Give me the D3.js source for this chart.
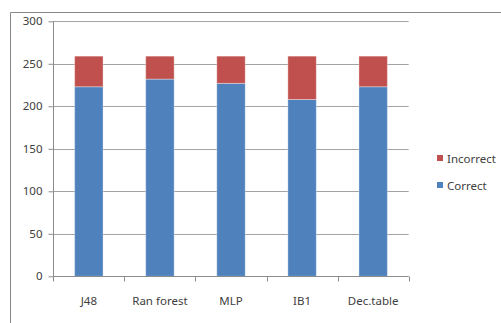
<!DOCTYPE html>
<html><head><meta charset="utf-8">
<script src="https://cdn.jsdelivr.net/npm/d3@7"></script>
<style>
html,body{margin:0;padding:0;background:#fff;}
svg{display:block;}
text{font-family:"Noto Sans",sans-serif;font-size:11.5px;fill:#404040;}
</style></head>
<body>
<svg id="chart" width="501" height="323"></svg>
<script>
const categories = ["J48", "Ran forest", "MLP", "IB1", "Dec.table"];
const correct = [223, 232, 227, 208, 223];
const incorrect = [36, 27, 32, 51, 36];
const yTicks = [0, 50, 100, 150, 200, 250, 300];
const seriesNames = ["Correct", "Incorrect"];
const colors = ["#4F81BD", "#C0504D"];

const svg = d3.select("#chart");
// outer frame (clipped on right/bottom)
svg.append("path").attr("d", "M10.5,330V12.5H510")
  .attr("fill", "none").attr("stroke", "#888").attr("stroke-width", 1);

const x = d3.scaleBand().domain(categories).range([53.3, 408.7]).paddingInner(0.6).paddingOuter(0.3);
const y = d3.scaleLinear().domain([0, 300]).range([276.3, 21.3]);

// gridlines
svg.append("g").selectAll("line").data(yTicks.filter(d => d > 0)).join("line")
  .attr("x1", 53.3).attr("x2", 408.7)
  .attr("y1", d => Math.round(y(d)) + 0.5).attr("y2", d => Math.round(y(d)) + 0.5)
  .attr("stroke", "#a3a3a3").attr("stroke-width", 1);

const table = categories.map((c, i) => ({cat: c, Correct: correct[i], Incorrect: incorrect[i]}));
const stack = d3.stack().keys(seriesNames)(table);
svg.append("g").selectAll("g").data(stack).join("g")
  .attr("fill", (d, i) => colors[i])
  .selectAll("rect").data(d => d).join("rect")
  .attr("x", d => x(d.data.cat))
  .attr("width", x.bandwidth())
  .attr("y", d => y(d[1]))
  .attr("height", d => y(d[0]) - y(d[1]))
  .attr("stroke", "rgba(255,255,255,0.35)").attr("stroke-width", 1);

// y axis
const yAxis = svg.append("g").attr("transform", "translate(53.5,0)")
  .call(d3.axisLeft(y).tickValues(yTicks).tickSize(5).tickPadding(6));
yAxis.selectAll("line").attr("stroke", "#8c8c8c");
yAxis.select(".domain").attr("stroke", "#8c8c8c").attr("d", "M0," + y(300) + "V" + y(0));
yAxis.selectAll("text").style("font-family", "Noto Sans").style("font-size", "11.5px").attr("fill", "#404040");

// x axis
const xAxis = svg.append("g").attr("transform", "translate(0," + (Math.round(y(0)) + 0.5) + ")");
xAxis.append("line").attr("x1", 53.3).attr("x2", 408.7).attr("stroke", "#8c8c8c");
const step = x.step();
const xTickPos = d3.range(categories.length + 1).map(i => x.range()[0] + i * step);
xAxis.selectAll(".xt").data(xTickPos).join("line").attr("class", "xt")
  .attr("x1", d => Math.round(d) + 0.5).attr("x2", d => Math.round(d) + 0.5)
  .attr("y1", 0).attr("y2", 5).attr("stroke", "#8c8c8c");
xAxis.selectAll("text").data(categories).join("text")
  .attr("x", d => x(d) + x.bandwidth() / 2).attr("y", 28)
  .attr("text-anchor", "middle").text(d => d);

// legend
const legendItems = ["Incorrect", "Correct"];
const lg = svg.append("g").selectAll("g").data(legendItems).join("g")
  .attr("transform", (d, i) => "translate(437," + (155 + i * 27) + ")");
lg.append("rect").attr("width", 6).attr("height", 6)
  .attr("fill", d => colors[seriesNames.indexOf(d)]);
lg.append("text").attr("x", 10).attr("y", 7.5).text(d => d);
</script>
</body></html>
